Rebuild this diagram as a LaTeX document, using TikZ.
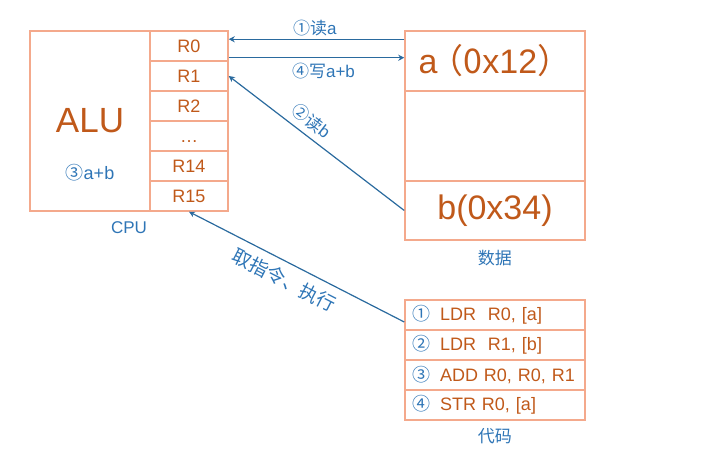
\documentclass[tikz,border=0pt]{standalone}
\usepackage{fontspec}
\setmainfont{Liberation Sans}
\newfontfamily\cjk{Noto Sans CJK SC}
\usetikzlibrary{positioning, calc}
\usetikzlibrary{arrows.meta}
\definecolor{boxedge}{HTML}{F4A98C}
\definecolor{txtorange}{HTML}{C0591A}
\definecolor{lblblue}{HTML}{2E75B6}
\definecolor{arrowblue}{HTML}{2A6A9E}

\begin{document}
\begin{tikzpicture}[x=0.5pt, y=-0.5pt,
    cell/.style={draw=boxedge, line width=0.75pt, inner sep=0pt, text=txtorange},
    reg/.style={cell, minimum width=39pt, minimum height=15pt, font=\fontsize{9}{10}\selectfont},
    mem/.style={cell, minimum width=90pt, font=\fontsize{17}{19}\selectfont},
    instr/.style={cell, minimum height=15pt, text width=83pt, inner xsep=3.5pt, align=left, font=\fontsize{9}{10}\selectfont},
    lbl/.style={text=lblblue, inner sep=1.5pt, font=\fontsize{8.5}{10}\selectfont},
    link/.style={draw=arrowblue, line width=0.6pt, -{Stealth[length=3pt, width=3pt]}}]

    \useasboundingbox (0,0) rectangle (709,453);

    % CPU: ALU and registers
    \node[cell, minimum width=60pt, minimum height=90pt] (alu) at (90,121) {};
    \node[text=txtorange, font=\fontsize{17.5}{20}\selectfont] (alutxt) at (90,121) {ALU};
    \node[lbl, font=\fontsize{9}{10}\selectfont] (sum) at (90,173) {{\cjk ③}a+b};
    \foreach \r [count=\i from 0] in {R0,R1,R2,\ldots,R14,R15} {
        \node[reg] (r\i) at (189,46+30*\i) {\vphantom{R}\r};
    }
    \node[lbl, below=3pt] (cpu) at ($(alu.south west)!0.5!(r5.south east)$) {CPU};

    % data memory
    \node[mem, minimum height=30pt] (ma) at (495,61) {a\hspace{-4pt}{\cjk（0}x12{\cjk）}\hspace{-13pt}};
    \node[mem, minimum height=45pt] (mmid) at (495,136) {};
    \node[mem, minimum height=29.5pt] (mb) at (495,210.5) {b(0x34)};
    \node[lbl, below=3pt] (data) at (mb.south) {\cjk 数据};

    % code
    \node[instr] (c1) at (495,315) {\textcolor{lblblue}{\cjk ①}\hspace{5pt}LDR\ \ R0, [a]};
    \node[instr] (c2) at (495,345) {\textcolor{lblblue}{\cjk ②}\hspace{5pt}LDR\ \ R1, [b]};
    \node[instr] (c3) at (495,375) {\textcolor{lblblue}{\cjk ③}\hspace{5pt}ADD R0, R0, R1};
    \node[instr] (c4) at (495,405) {\textcolor{lblblue}{\cjk ④}\hspace{5pt}STR R0, [a]};
    \node[lbl, below=2pt] (code) at (c4.south) {\cjk 代码};

    % links
    \coordinate (rd) at ([yshift=-4.5pt]ma.north west);
    \coordinate (wr) at ([yshift=2pt]r0.south east);
    \draw[link] (rd) -- node[lbl, above, pos=0.51] (l1) {{\cjk ①读}a} (rd -| r0.east);
    \draw[link] (wr) -- node[lbl, below, pos=0.54, inner sep=2.5pt] (l4) {{\cjk ④写}a+b} (wr -| ma.west);
    \draw[link] (mb.west) -- node[lbl, sloped, above, pos=0.58, inner sep=3pt] (l2) {{\cjk ②读}b} (r1.east);
    \draw[link] ([yshift=-3.5pt]c1.west) -- node[lbl, sloped, below, pos=0.52, inner sep=4pt, font=\fontsize{9.5}{11}\selectfont] (l5) {\cjk 取指令、执行} (r5.south);

\end{tikzpicture}
\end{document}
